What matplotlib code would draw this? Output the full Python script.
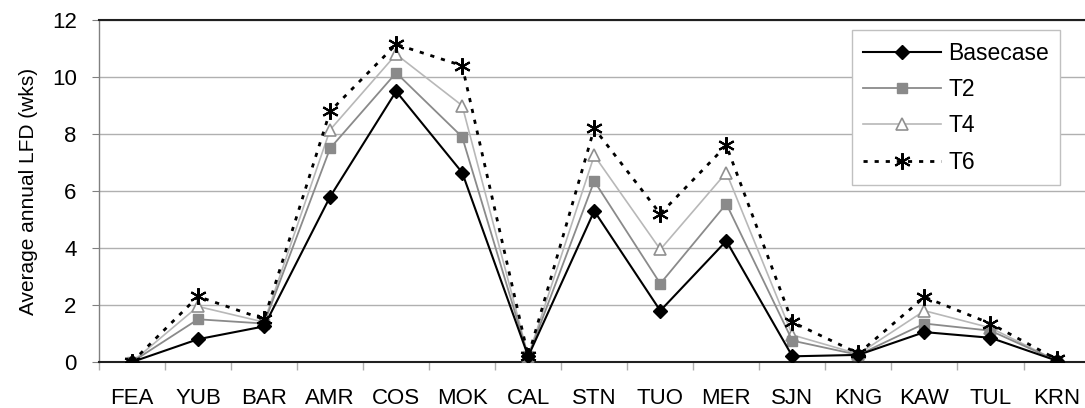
import matplotlib.pyplot as plt

plt.rcParams['font.family'] = ['Liberation Sans', 'DejaVu Sans']

# stations along the x axis
sites = ["FEA", "YUB", "BAR", "AMR", "COS", "MOK", "CAL", "STN",
         "TUO", "MER", "SJN", "KNG", "KAW", "TUL", "KRN"]

# average annual LFD (weeks) per scenario
basecase = [0.0, 0.8, 1.25, 5.8, 9.5, 6.65, 0.2, 5.3, 1.8, 4.25, 0.2, 0.25, 1.05, 0.85, 0.05]
t2 = [0.0, 1.5, 1.35, 7.5, 10.15, 7.9, 0.2, 6.35, 2.75, 5.55, 0.75, 0.25, 1.35, 1.1, 0.05]
t4 = [0.0, 1.95, 1.4, 8.15, 10.8, 9.0, 0.2, 7.25, 3.95, 6.65, 0.95, 0.28, 1.8, 1.2, 0.05]
t6 = [0.0, 2.3, 1.5, 8.8, 11.15, 10.4, 0.2, 8.2, 5.2, 7.6, 1.4, 0.3, 2.28, 1.35, 0.1]

fig = plt.figure(figsize=(10.85, 4.08), dpi=100)
ax = fig.add_axes([0.0912, 0.1127, 0.913, 0.838])

x = range(len(sites))
ax.plot(x, basecase, color='black', lw=1.5, marker='D', ms=7.5,
        mfc='black', mec='black', label='Basecase', zorder=5)
ax.plot(x, t2, color='#8a8a8a', lw=1.3, marker='s', ms=7.5,
        mfc='#8a8a8a', mec='#8a8a8a', label='T2', zorder=4)
ax.plot(x, t4, color='#b8b8b8', lw=1.2, marker='^', ms=8.5,
        mfc='white', mec='#909090', mew=1.2, label='T4', zorder=3)
ax.plot(x, t6, color='black', lw=2, ls=(0, (1.5, 2.5)), marker=(6, 2, 0), ms=12,
        mec='black', mew=1.5, label='T6', zorder=6)

ax.set_xlim(-0.5, len(sites) - 0.5)
ax.set_ylim(0, 12)
ax.set_yticks(range(0, 13, 2))
ax.set_xticks(x)
ax.set_xticklabels(sites)
ax.set_xticks([i - 0.5 for i in range(len(sites) + 1)], minor=True)
ax.tick_params(axis='x', which='major', length=0, pad=18.5, labelsize=16)
ax.tick_params(axis='x', which='minor', length=6, color='#b0b0b0', width=1)
ax.tick_params(axis='y', length=5, color='#808080', labelsize=16, pad=11)

ax.grid(axis='y', color='#b0b0b0', lw=1)
ax.set_axisbelow(True)
for side in ['top', 'left', 'bottom']:
    ax.spines[side].set_color('#202020')
    ax.spines[side].set_linewidth(1.5)
ax.spines['left'].set_color('#808080')
ax.spines['left'].set_linewidth(1)
ax.spines['right'].set_visible(False)

ax.set_ylabel('Average annual LFD (wks)', fontsize=15, labelpad=10)

leg = ax.legend(loc='upper left', bbox_to_anchor=(0.76, 0.97), borderaxespad=0,
                fontsize=16.5, handlelength=3.4, labelspacing=0.58, borderpad=0.5,
                handletextpad=0.3, fancybox=False, framealpha=1,
                edgecolor='#c0c0c0')
leg.get_frame().set_linewidth(1)

fig.savefig('out.png', dpi=100)
